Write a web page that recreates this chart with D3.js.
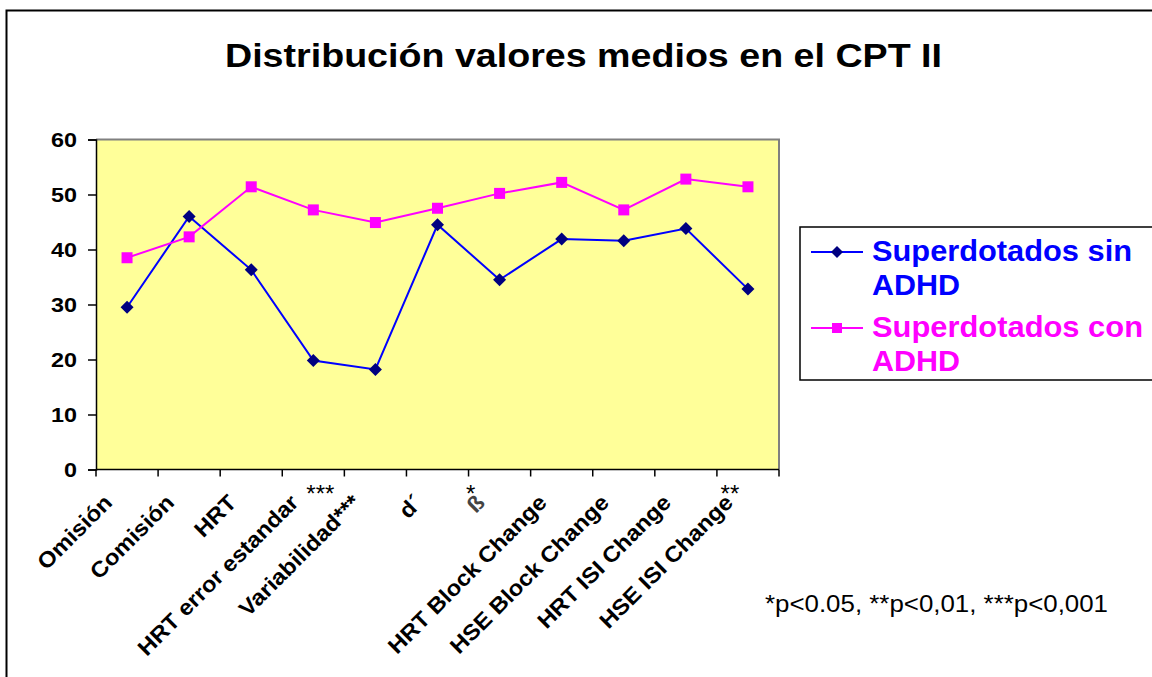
<!DOCTYPE html>
<html>
<head>
<meta charset="utf-8">
<script src="https://cdn.jsdelivr.net/npm/d3@7"></script>
<style>
  html, body { margin: 0; padding: 0; background: #fff; }
  svg { display: block; font-family: "Liberation Sans", Arial, sans-serif; }
</style>
</head>
<body>
<svg id="chart" width="1152" height="677"></svg>
<script>
const title = "Distribución valores medios en el CPT II";
const categories = ["Omisión", "Comisión", "HRT", "HRT error estandar", "Variabilidad***",
  "d´", "ß", "HRT Block Change", "HSE Block Change", "HRT ISI Change", "HSE ISI Change"];
const seriesNames = ["Superdotados sin ADHD", "Superdotados con ADHD"];
const sinADHD = [29.5, 46.0, 36.3, 19.8, 18.2, 44.5, 34.5, 41.9, 41.6, 43.8, 32.8];
const conADHD = [38.5, 42.3, 51.4, 47.2, 44.9, 47.5, 50.2, 52.2, 47.2, 52.8, 51.4];
const yTicks = [0, 10, 20, 30, 40, 50, 60];
const starNotes = [
  { text: "***", cat: "HRT error estandar" },
  { text: "*", cat: "ß" },
  { text: "**", cat: "HSE ISI Change" }
];
const footnote = "*p<0.05, **p<0,01, ***p<0,001";

const svg = d3.select("#chart");
const plot = { left: 96, right: 779, top: 139.5, bottom: 469.5 };

const x = d3.scaleBand().domain(categories).range([plot.left, plot.right]);
const y = d3.scaleLinear().domain([0, 60]).range([plot.bottom, plot.top]);
const cx = c => x(c) + x.bandwidth() / 2;

// outer frame
svg.append("path").attr("d", "M6.5,677 V10.5 H1152")
  .attr("fill", "none").attr("stroke", "#000").attr("stroke-width", 2);

// title
svg.append("text").attr("x", 225).attr("y", 67)
  .attr("font-size", 33).attr("font-weight", "bold")
  .attr("textLength", 717).attr("lengthAdjust", "spacingAndGlyphs")
  .text(title);

// plot background
svg.append("rect").attr("x", plot.left).attr("y", plot.top)
  .attr("width", plot.right - plot.left).attr("height", plot.bottom - plot.top)
  .attr("fill", "#FFFF99");
svg.append("path")
  .attr("d", `M${plot.left},${plot.top} H${plot.right} V${plot.bottom}`)
  .attr("fill", "none").attr("stroke", "#808080").attr("stroke-width", 2);

// y axis
const yAxis = svg.append("g").attr("transform", `translate(${plot.left},0)`)
  .call(d3.axisLeft(y).tickValues(yTicks).tickSize(8).tickPadding(11).tickFormat(d3.format("d")));
yAxis.select(".domain").attr("stroke", "#000").attr("stroke-width", 1.5);
yAxis.selectAll(".tick line").attr("stroke", "#000").attr("stroke-width", 1.5);
yAxis.selectAll(".tick text").attr("font-size", 21).attr("font-weight", "bold")
  .attr("font-family", "Liberation Sans, Arial, sans-serif").attr("fill", "#000")
  .attr("textLength", d => String(d).length * 13).attr("lengthAdjust", "spacingAndGlyphs");

// x axis line + ticks at band boundaries
const xg = svg.append("g");
xg.append("line").attr("x1", plot.left).attr("x2", plot.right)
  .attr("y1", plot.bottom).attr("y2", plot.bottom)
  .attr("stroke", "#000").attr("stroke-width", 1.5);
const bounds = categories.map(c => x(c)).concat([x.range()[1]]);
xg.selectAll("line.tk").data(bounds).enter().append("line").attr("class", "tk")
  .attr("x1", d => d).attr("x2", d => d)
  .attr("y1", plot.bottom).attr("y2", plot.bottom + 7)
  .attr("stroke", "#000").attr("stroke-width", 1.5);

// category labels
xg.selectAll("text.cat").data(categories).enter().append("text").attr("class", "cat")
  .attr("transform", d => `translate(${cx(d) - 19},${plot.bottom + 29}) rotate(-45) scale(1.08,1)`)
  .attr("text-anchor", "end").attr("dy", "0.35em")
  .attr("font-size", 22).attr("font-weight", "bold")
  .attr("fill", d => d === "ß" ? "#444" : "#000")
  .text(d => d);

// star annotations
const starOffset = { "***": 7, "*": -29, "**": -18 };
svg.selectAll("text.star").data(starNotes).enter().append("text").attr("class", "star")
  .attr("x", d => cx(d.cat) + starOffset[d.text])
  .attr("y", 502).attr("text-anchor", "middle")
  .attr("font-size", 24).text(d => d.text);

// lines
const line = d3.line().x((d, i) => cx(categories[i])).y(d => y(d));
svg.append("path").datum(sinADHD).attr("d", line)
  .attr("fill", "none").attr("stroke", "#0000FF").attr("stroke-width", 2);
svg.append("path").datum(conADHD).attr("d", line)
  .attr("fill", "none").attr("stroke", "#FF00FF").attr("stroke-width", 2);

// markers
const diamond = "M0,-6.5 L6.5,0 L0,6.5 L-6.5,0 Z";
svg.selectAll("path.dm").data(sinADHD).enter().append("path").attr("class", "dm")
  .attr("d", diamond)
  .attr("transform", (d, i) => `translate(${cx(categories[i])},${y(d)})`)
  .attr("fill", "#000080");
svg.selectAll("rect.sq").data(conADHD).enter().append("rect").attr("class", "sq")
  .attr("x", (d, i) => cx(categories[i]) - 5.5).attr("y", d => y(d) - 5.5)
  .attr("width", 11).attr("height", 11).attr("fill", "#FF00FF");

// legend
const lg = svg.append("g");
lg.append("rect").attr("x", 800).attr("y", 227).attr("width", 360).attr("height", 153)
  .attr("fill", "#fff").attr("stroke", "#000").attr("stroke-width", 1.5);
const legendItems = [
  { lines: ["Superdotados sin", "ADHD"], color: "#0000FF", mcolor: "#000080", shape: "d", y: 252, widths: [260, 88] },
  { lines: ["Superdotados con", "ADHD"], color: "#FF00FF", mcolor: "#FF00FF", shape: "s", y: 328, widths: [271, 88] }
];
legendItems.forEach(it => {
  lg.append("line").attr("x1", 811).attr("x2", 863).attr("y1", it.y).attr("y2", it.y)
    .attr("stroke", it.color).attr("stroke-width", 2);
  if (it.shape === "d") {
    lg.append("path").attr("d", "M0,-6 L6,0 L0,6 L-6,0 Z")
      .attr("transform", `translate(837,${it.y})`).attr("fill", it.mcolor);
  } else {
    lg.append("rect").attr("x", 832).attr("y", it.y - 5).attr("width", 10).attr("height", 10)
      .attr("fill", it.mcolor);
  }
  it.lines.forEach((t, k) => {
    lg.append("text").attr("x", 872).attr("y", it.y + 9 + k * 33.5)
      .attr("font-size", 29).attr("font-weight", "bold").attr("fill", it.color)
      .attr("textLength", it.widths[k]).attr("lengthAdjust", "spacingAndGlyphs")
      .text(t);
  });
});

// footnote
svg.append("text").attr("x", 765).attr("y", 612)
  .attr("font-size", 23).attr("textLength", 343).attr("lengthAdjust", "spacingAndGlyphs")
  .text(footnote);
</script>
</body>
</html>
